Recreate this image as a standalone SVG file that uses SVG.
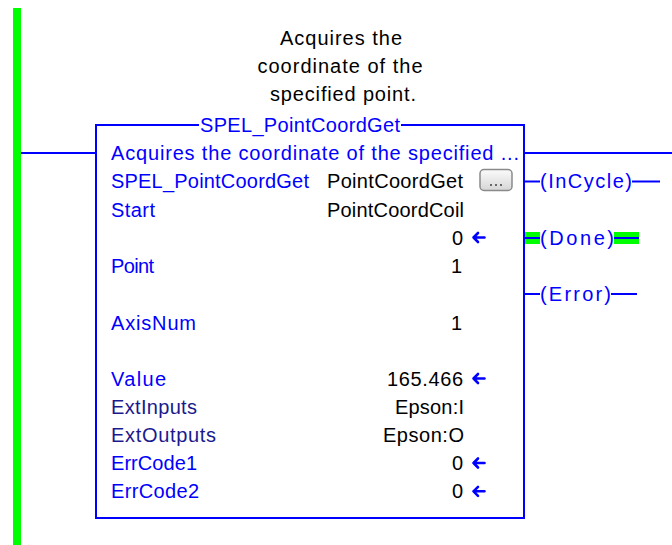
<svg xmlns="http://www.w3.org/2000/svg" width="672" height="545" viewBox="0 0 672 545">
<style>
text{font-family:"Liberation Sans",Arial,sans-serif;font-size:20px}
.lbl{fill:#0000ff}
.nv{fill:#1a1a8e}
.val{fill:#000000}
.cmt{fill:#000000;text-anchor:middle}
.wire{stroke:#0000ff;stroke-width:2;fill:none}
.arr{stroke:#0000ff;stroke-width:2.6;fill:none;stroke-linecap:round;stroke-linejoin:round}
</style>
<defs>
<linearGradient id="btn" x1="0" y1="0" x2="0" y2="1">
<stop offset="0" stop-color="#fbfbfb"/>
<stop offset="1" stop-color="#d6d6d6"/>
</linearGradient>
<path id="arrow" class="arr" d="M473.5 0 L478 -4.5 M473.5 0 L478 4.5 M473.5 0 H484.5"/>
</defs>
<rect width="672" height="545" fill="#ffffff"/>

<g id="rail">
<rect x="13" y="8" width="8" height="537" fill="#00ff00"/>
</g>

<g id="connectors">
<line class="wire" x1="21" y1="153" x2="96" y2="153"/>
<line class="wire" x1="524" y1="153" x2="672" y2="153"/>
<line class="wire" x1="524" y1="181.5" x2="540" y2="181.5"/>
<line class="wire" x1="632" y1="181.5" x2="660" y2="181.5"/>
<rect x="524" y="232" width="16" height="12" fill="#00ff00"/>
<rect x="614" y="232" width="25" height="12" fill="#00ff00"/>
<line class="wire" x1="524" y1="238" x2="540" y2="238"/>
<line class="wire" x1="614" y1="238" x2="639" y2="238"/>
<line class="wire" x1="524" y1="294" x2="540" y2="294"/>
<line class="wire" x1="611" y1="294" x2="637" y2="294"/>
</g>

<g id="comment">
<text class="cmt" x="341" y="44.5" textLength="122" lengthAdjust="spacing">Acquires the</text>
<text class="cmt" x="340" y="72.5" textLength="165" lengthAdjust="spacing">coordinate of the</text>
<text class="cmt" x="343" y="100.5" textLength="146" lengthAdjust="spacing">specified point.</text>
</g>

<g id="block">
<path class="wire" d="M199 125 H96 V518 H524 V125 H401"/>
<text class="lbl" x="200" y="131.7" textLength="200" lengthAdjust="spacing">SPEL_PointCoordGet</text>
<text class="lbl" x="111" y="160" textLength="408" lengthAdjust="spacing">Acquires the coordinate of the specified ...</text>
<text class="lbl" x="111" y="188.3" textLength="198" lengthAdjust="spacing">SPEL_PointCoordGet</text>
<text class="val" x="327" y="188.3" textLength="136" lengthAdjust="spacing">PointCoordGet</text>
<rect x="480" y="169.5" width="32" height="21" rx="4" fill="url(#btn)" stroke="#8a8a8a" stroke-width="1.5"/>
<circle cx="491" cy="185" r="1" fill="#404040"/>
<circle cx="496" cy="185" r="1" fill="#404040"/>
<circle cx="501" cy="185" r="1" fill="#404040"/>
<text class="lbl" x="111" y="216.7" textLength="44" lengthAdjust="spacing">Start</text>
<text class="val" x="327" y="216.7" textLength="137" lengthAdjust="spacing">PointCoordCoil</text>
<text class="val" x="452" y="244.5">0</text>
<use href="#arrow" transform="translate(0,237.5)"/>
<text class="lbl" x="111" y="273" textLength="43" lengthAdjust="spacing">Point</text>
<text class="val" x="451" y="273">1</text>
<text class="lbl" x="111" y="329.5" textLength="85" lengthAdjust="spacing">AxisNum</text>
<text class="val" x="451" y="329.5">1</text>
<text class="lbl" x="111" y="385.5" textLength="55" lengthAdjust="spacing">Value</text>
<text class="val" x="387" y="385.5" textLength="76" lengthAdjust="spacing">165.466</text>
<use href="#arrow" transform="translate(0,378.5)"/>
<text class="nv" x="111" y="413.5" textLength="86" lengthAdjust="spacing">ExtInputs</text>
<text class="val" x="395" y="413.5" textLength="69" lengthAdjust="spacing">Epson:I</text>
<text class="nv" x="111" y="442" textLength="105" lengthAdjust="spacing">ExtOutputs</text>
<text class="val" x="383" y="442" textLength="81" lengthAdjust="spacing">Epson:O</text>
<text class="lbl" x="111" y="470" textLength="86" lengthAdjust="spacing">ErrCode1</text>
<text class="val" x="452" y="470">0</text>
<use href="#arrow" transform="translate(0,463)"/>
<text class="lbl" x="111" y="498.3" textLength="88" lengthAdjust="spacing">ErrCode2</text>
<text class="val" x="452" y="498.3">0</text>
<use href="#arrow" transform="translate(0,491.3)"/>
</g>

<g id="coil-incycle">
<text class="lbl" x="540" y="188.3" textLength="92" lengthAdjust="spacing">(InCycle)</text>
</g>
<g id="coil-done">
<text class="lbl" x="540" y="245" textLength="74" lengthAdjust="spacing">(Done)</text>
</g>
<g id="coil-error">
<text class="lbl" x="540" y="301" textLength="71" lengthAdjust="spacing">(Error)</text>
</g>
</svg>
